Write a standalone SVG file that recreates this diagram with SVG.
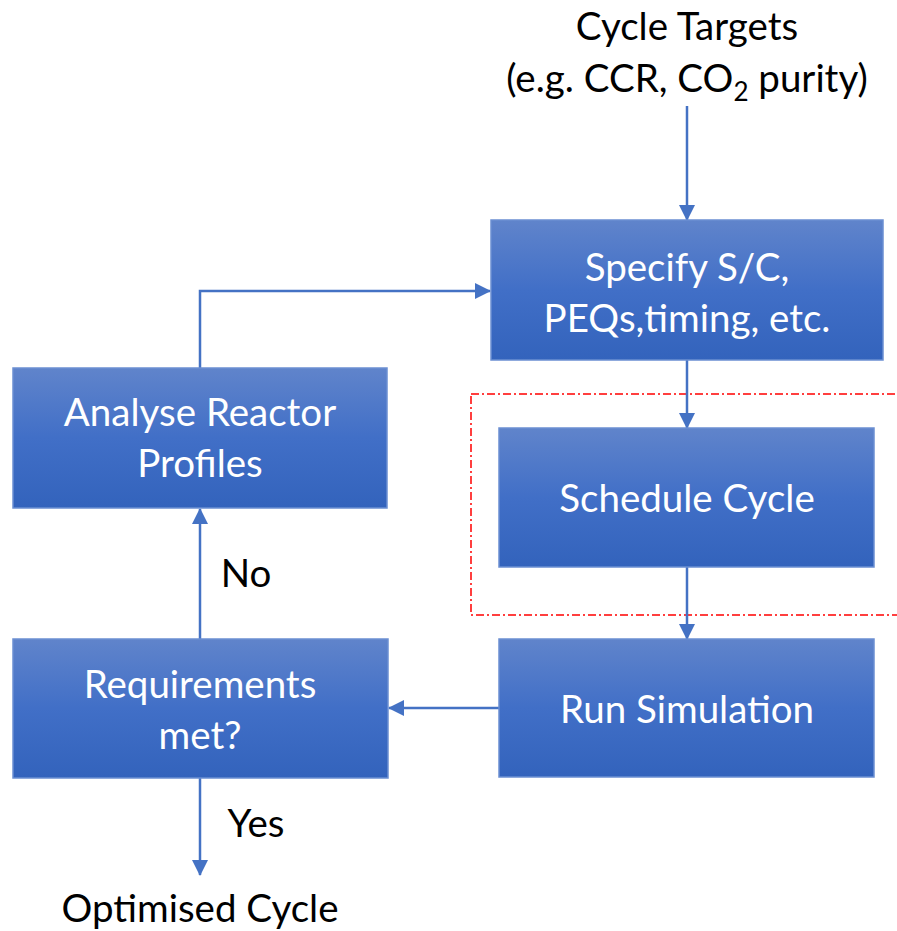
<svg xmlns="http://www.w3.org/2000/svg" width="897" height="931" viewBox="0 0 897 931">
<defs>
<linearGradient id="g" x1="0" y1="0" x2="0" y2="1">
<stop offset="0" stop-color="#6084cb"/>
<stop offset="0.5" stop-color="#416fc7"/>
<stop offset="1" stop-color="#3363bc"/>
</linearGradient>
<marker id="arrb" markerWidth="16" markerHeight="16" refX="15" refY="8" orient="auto" markerUnits="userSpaceOnUse" viewBox="0 0 16 16">
<path d="M0,0 L16,8 L0,16 z" fill="#4472c4"/>
</marker>
<style>
.box{fill:url(#g);stroke:#6b8fd2;stroke-width:1.5}
.wt{fill:#ffffff;font-family:Lato,"Open Sans","Liberation Sans",sans-serif;font-size:38.5px;text-anchor:middle}
.bt{fill:#000000;font-family:Lato,"Open Sans","Liberation Sans",sans-serif;font-size:38.5px;text-anchor:middle}
.c{fill:none;stroke:#4472c4;stroke-width:2.5;marker-end:url(#arrb)}
</style>
</defs>
<rect x="471" y="394" width="440" height="221" fill="none" stroke="#ff0000" stroke-width="1.5" stroke-dasharray="8,3,2,3"/>
<g id="connectors">
<path class="c" d="M687,106 V220"/>
<path class="c" d="M687,360 V428"/>
<path class="c" d="M687,567 V639"/>
<path class="c" d="M499,708 H389"/>
<path class="c" d="M200,639 V509"/>
<path class="c" d="M200,368 V291 H490"/>
<path class="c" d="M200,778 V875"/>
</g>
<g id="cycle-targets">
<text class="bt" x="687" y="40">Cycle Targets</text>
<text class="bt" x="687" y="92">(e.g. CCR, CO<tspan font-size="26" dy="9">2</tspan><tspan dy="-9"> purity)</tspan></text>
</g>
<g id="specify">
<rect class="box" x="491" y="220" width="392" height="140"/>
<text class="wt" x="687" y="281">Specify S/C,</text>
<text class="wt" x="687" y="332">PEQs,timing, etc.</text>
</g>
<g id="schedule">
<rect class="box" x="499" y="428" width="375" height="139"/>
<text class="wt" x="687" y="512">Schedule Cycle</text>
</g>
<g id="run">
<rect class="box" x="499" y="639" width="375" height="138"/>
<text class="wt" x="687" y="723">Run Simulation</text>
</g>
<g id="requirements">
<rect class="box" x="13" y="639" width="375" height="139"/>
<text class="wt" x="200" y="698">Requirements</text>
<text class="wt" x="200" y="749">met?</text>
</g>
<g id="analyse">
<rect class="box" x="13" y="368" width="374" height="140"/>
<text class="wt" x="200" y="426">Analyse Reactor</text>
<text class="wt" x="200" y="477">Profiles</text>
</g>
<g id="labels">
<text class="bt" x="246" y="587">No</text>
<text class="bt" x="256" y="837">Yes</text>
<text class="bt" x="200" y="922">Optimised Cycle</text>
</g>
</svg>
